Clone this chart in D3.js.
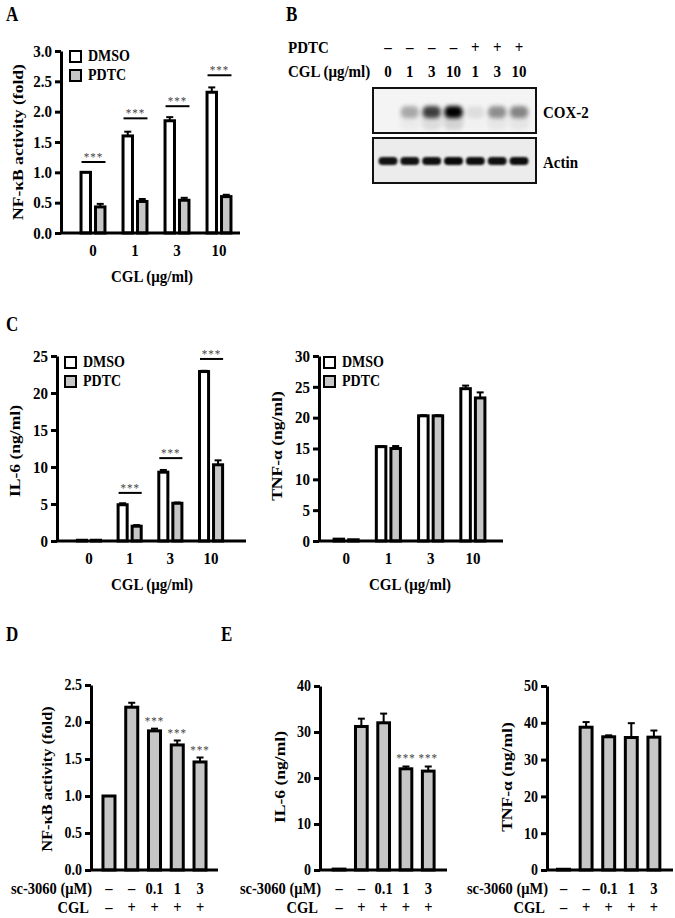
<!DOCTYPE html>
<html><head><meta charset="utf-8">
<script src="https://cdn.jsdelivr.net/npm/d3@7"></script>
<style>
body{margin:0;background:#fff}
svg text{font-family:"Liberation Serif","Times New Roman",Times,serif;font-weight:bold;fill:#000}
</style>
</head><body>
<svg id="chart" width="675" height="918"></svg>
<script>
// ---------------- DATA ----------------
const cglDoses = ["0", "1", "3", "10"];
const seriesNames = ["DMSO", "PDTC"];

// Panel A: NF-kB activity (fold)
const nfkbTicks = [0, 0.5, 1, 1.5, 2, 2.5, 3];
const nfkbDMSO = [1.0, 1.6, 1.85, 2.32];
const nfkbDMSOErr = [0, 0.07, 0.06, 0.08];
const nfkbPDTC = [0.43, 0.52, 0.54, 0.60];
const nfkbPDTCErr = [0.05, 0.04, 0.04, 0.03];
const nfkbSig = [1.17, 1.89, 2.09, 2.6];

// Panel B: western blot
const blotPDTC = ["\u2013", "\u2013", "\u2013", "\u2013", "+", "+", "+"];
const blotCGL = ["0", "1", "3", "10", "1", "3", "10"];
const cox2Intensity = [0, 0.28, 0.72, 1.0, 0.08, 0.38, 0.42];
const actinIntensity = [0.92, 0.92, 0.93, 0.96, 0.94, 0.93, 0.94];

// Panel C: IL-6 and TNF-a (ng/ml)
const il6Ticks = [0, 5, 10, 15, 20, 25];
const il6DMSO = [0.1, 4.9, 9.3, 22.9];
const il6DMSOErr = [0, 0.2, 0.3, 0.1];
const il6PDTC = [0.1, 2.0, 5.1, 10.3];
const il6PDTCErr = [0, 0.15, 0.1, 0.6];
const il6Sig = [null, 6.5, 11.2, 24.6];

const tnfTicks = [0, 5, 10, 15, 20, 25, 30];
const tnfDMSO = [0.3, 15.3, 20.3, 24.7];
const tnfDMSOErr = [0, 0.1, 0.1, 0.5];
const tnfPDTC = [0.2, 15.0, 20.3, 23.2];
const tnfPDTCErr = [0, 0.4, 0.1, 0.9];

// Panels D/E: sc-3060
const scLabels = ["\u2013", "\u2013", "0.1", "1", "3"];
const cglSigns = ["\u2013", "+", "+", "+", "+"];
const dTicks = [0, 0.5, 1, 1.5, 2, 2.5];
const dNfkb = [1.0, 2.2, 1.88, 1.69, 1.46];
const dNfkbErr = [0, 0.06, 0.03, 0.06, 0.06];
const dSig = [false, false, true, true, true];
const eIl6Ticks = [0, 10, 20, 30, 40];
const eIl6 = [0.2, 31.2, 32.0, 22.0, 21.5];
const eIl6Err = [0, 1.7, 2.0, 0.5, 1.0];
const eIl6Sig = [false, false, false, true, true];
const eTnfTicks = [0, 10, 20, 30, 40, 50];
const eTnf = [0.2, 38.8, 36.2, 36.0, 36.1];
const eTnfErr = [0, 1.4, 0.4, 3.9, 1.8];

// ---------------- STYLE ----------------
const SW = 3;          // outline width
const STRETCH = 1.17;  // vertical text stretch of the source figure
const GREY = "#c6c6c6";
const svg = d3.select("#chart");

function addText(x, y, s, o = {}) {
  const t = svg.append("text")
    .attr("transform", `translate(${x},${y}) scale(1,${STRETCH})` + (o.rotate ? " rotate(-90)" : ""))
    .attr("font-size", o.size || 15)
    .attr("text-anchor", o.anchor || "start")
    .text(s);
  if (o.dy) t.attr("dy", o.dy);
  if (o.fill) t.style("fill", o.fill);
  if (o.weight) t.style("font-weight", o.weight);
  if (o.ls) t.attr("letter-spacing", o.ls);
  return t;
}

function drawYAxis(x0, y, ticks, fmt, size) {
  const g = svg.append("g").attr("transform", `translate(${x0},0)`)
    .call(d3.axisLeft(y).tickValues(ticks).tickFormat(fmt).tickSize(6).tickSizeOuter(0).tickPadding(3));
  g.attr("font-family", null).attr("font-size", null);
  g.select(".domain").attr("stroke", "#000").attr("stroke-width", SW);
  g.selectAll(".tick line").attr("stroke", "#000").attr("stroke-width", SW);
  g.selectAll(".tick text").attr("font-size", size || 14).attr("transform", `scale(1,${STRETCH})`).attr("dy", "0.3em");
}

function drawXLine(x0, x1, yv) {
  svg.append("line").attr("x1", x0 - 1).attr("x2", x1).attr("y1", yv).attr("y2", yv)
    .attr("stroke", "#000").attr("stroke-width", SW);
}

function errBar(cx, yTop, yErr) {
  if (Math.abs(yTop - yErr) < 0.5) return;
  svg.append("line").attr("x1", cx).attr("x2", cx).attr("y1", yTop).attr("y2", yErr)
    .attr("stroke", "#000").attr("stroke-width", 2);
  svg.append("line").attr("x1", cx - 3.5).attr("x2", cx + 3.5).attr("y1", yErr).attr("y2", yErr)
    .attr("stroke", "#000").attr("stroke-width", 2);
}

function stars(cx, baseY) {
  addText(cx, baseY, "***", { size: 11, anchor: "middle", fill: "#444", weight: "normal", ls: 1 });
}

// ---------- grouped (DMSO/PDTC) panel ----------
function groupedPanel(o) {
  const y = d3.scaleLinear().domain([0, o.max]).range([o.y0, o.y1]);
  const x0 = d3.scaleBand().domain(cglDoses).range(o.groupRange);
  const x1 = d3.scaleBand().domain(seriesNames).range([0, x0.bandwidth()]).paddingInner(0.14).paddingOuter(0.52);
  const bw = x1.bandwidth();

  o.series.forEach((s, si) => {
    const name = seriesNames[si];
    svg.append("g").selectAll("rect").data(s.vals).join("rect")
      .attr("x", (d, i) => x0(cglDoses[i]) + x1(name) + SW / 2)
      .attr("y", d => y(d))
      .attr("width", bw - SW)
      .attr("height", d => y(0) - y(d))
      .attr("fill", s.fill).attr("stroke", "#000").attr("stroke-width", SW);
    s.vals.forEach((v, i) => errBar(x0(cglDoses[i]) + x1(name) + bw / 2, y(v), y(v + s.errs[i])));
  });

  drawYAxis(o.axisX, y, o.ticks, o.fmt, 15);
  drawXLine(o.axisX, o.xEnd, y(0));

  cglDoses.forEach(g => addText(x0(g) + x0.bandwidth() / 2, o.y0 + 23, g, { size: 15, anchor: "middle" }));
  addText(o.xTitleX, o.y0 + 49, "CGL (\u03bcg/ml)", { size: 15, anchor: "middle" });
  addText(o.yTitleX, o.yTitleY, o.yTitle, { size: 15, anchor: "middle", rotate: true, dy: "0.35em" });

  // legend
  o.series.forEach((s, si) => {
    const ly = o.legendY + si * 19;
    svg.append("rect").attr("x", o.legendX).attr("y", ly).attr("width", 11).attr("height", 11)
      .attr("fill", s.fill).attr("stroke", "#000").attr("stroke-width", 2);
    addText(o.legendX + 18, ly + 10, seriesNames[si], { size: 14 });
  });

  // significance
  if (o.sig) o.sig.forEach((sv, i) => {
    if (sv == null) return;
    const xa = x0(cglDoses[i]) + x1("DMSO") + 2, xb = x0(cglDoses[i]) + x1("PDTC") + bw - 1;
    svg.append("line").attr("x1", xa).attr("x2", xb).attr("y1", y(sv)).attr("y2", y(sv))
      .attr("stroke", "#000").attr("stroke-width", 2);
    stars((xa + xb) / 2, y(sv) - 1);
  });
}

// ---------- single series panel (D/E) ----------
function singlePanel(o) {
  const y = d3.scaleLinear().domain([0, o.max]).range([o.y0, o.y1]);
  const idx = d3.range(o.vals.length);
  const x = d3.scaleBand().domain(idx).range(o.range).paddingInner(0.34).paddingOuter(0.17);
  const bw = x.bandwidth();

  svg.append("g").selectAll("rect").data(o.vals).join("rect")
    .attr("x", (d, i) => x(i) + SW / 2)
    .attr("y", d => y(d))
    .attr("width", bw - SW)
    .attr("height", d => y(0) - y(d))
    .attr("fill", GREY).attr("stroke", "#000").attr("stroke-width", SW);
  o.vals.forEach((v, i) => errBar(x(i) + bw / 2, y(v), y(v + o.errs[i])));
  o.vals.forEach((v, i) => { if (o.sig && o.sig[i]) stars(x(i) + bw / 2, y(v + o.errs[i]) - o.starGap); });

  drawYAxis(o.axisX, y, o.ticks, o.fmt, 14);
  drawXLine(o.axisX, o.xEnd, y(0));

  addText(o.axisX + 1, 894, "sc-3060 (\u03bcM)", { size: 14.5, anchor: "end" });
  addText(o.axisX - 2, 913, "CGL", { size: 14.5, anchor: "end" });
  scLabels.forEach((s, i) => addText(x(i) + bw / 2, 894, s, { size: 14.5, anchor: "middle" }));
  cglSigns.forEach((s, i) => addText(x(i) + bw / 2, 913, s, { size: 14.5, anchor: "middle" }));
  addText(o.yTitleX, o.yTitleY, o.yTitle, { size: o.yTitleSize || 15, anchor: "middle", rotate: true, dy: "0.35em" });
}

// ---------------- PANEL LETTERS ----------------
[["A", 6, 21], ["B", 286, 21], ["C", 6, 331], ["D", 6, 641], ["E", 221, 641]]
  .forEach(([l, x, yv]) => addText(x, yv, l, { size: 17 }));

// ---------------- PANEL A ----------------
groupedPanel({
  axisX: 61, y0: 233, y1: 51, max: 3, ticks: nfkbTicks, fmt: d3.format(".1f"),
  groupRange: [72, 240], xEnd: 240,
  series: [{ vals: nfkbDMSO, errs: nfkbDMSOErr, fill: "#fff" }, { vals: nfkbPDTC, errs: nfkbPDTCErr, fill: GREY }],
  sig: nfkbSig, xTitleX: 152, yTitle: "NF-\u03baB activity (fold)", yTitleX: 18, yTitleY: 142,
  legendX: 70, legendY: 51
});

// ---------------- PANEL C ----------------
groupedPanel({
  axisX: 57, y0: 541, y1: 356, max: 25, ticks: il6Ticks, fmt: d3.format("d"),
  groupRange: [68.6, 231.4], xEnd: 246,
  series: [{ vals: il6DMSO, errs: il6DMSOErr, fill: "#fff" }, { vals: il6PDTC, errs: il6PDTCErr, fill: GREY }],
  sig: il6Sig, xTitleX: 152, yTitle: "IL-6 (ng/ml)", yTitleX: 15, yTitleY: 451,
  legendX: 65, legendY: 357
});
groupedPanel({
  axisX: 319, y0: 541, y1: 356, max: 30, ticks: tnfTicks, fmt: d3.format("d"),
  groupRange: [325, 494], xEnd: 503,
  series: [{ vals: tnfDMSO, errs: tnfDMSOErr, fill: "#fff" }, { vals: tnfPDTC, errs: tnfPDTCErr, fill: GREY }],
  sig: null, xTitleX: 410, yTitle: "TNF-\u03b1 (ng/ml)", yTitleX: 277, yTitleY: 446,
  legendX: 324, legendY: 357
});

// ---------------- PANEL D / E ----------------
singlePanel({
  axisX: 91, y0: 870, y1: 685, max: 2.5, ticks: dTicks, fmt: d3.format(".1f"),
  range: [97.6, 211.4], xEnd: 218, vals: dNfkb, errs: dNfkbErr, sig: dSig, starGap: 4,
  yTitle: "NF-\u03baB activity (fold)", yTitleX: 47, yTitleY: 779, yTitleSize: 14
});
singlePanel({
  axisX: 320, y0: 870, y1: 686, max: 40, ticks: eIl6Ticks, fmt: d3.format("d"),
  range: [327.9, 439.4], xEnd: 447, vals: eIl6, errs: eIl6Err, sig: eIl6Sig, starGap: 5,
  yTitle: "IL-6 (ng/ml)", yTitleX: 280, yTitleY: 777
});
singlePanel({
  axisX: 547, y0: 870, y1: 686, max: 50, ticks: eTnfTicks, fmt: d3.format("d"),
  range: [552.2, 665.2], xEnd: 673, vals: eTnf, errs: eTnfErr, sig: null, starGap: 5,
  yTitle: "TNF-\u03b1 (ng/ml)", yTitleX: 507, yTitleY: 777
});

// ---------------- PANEL B (blot) ----------------
const lane = d3.scalePoint().domain(d3.range(7)).range([388, 519]);
const defs = svg.append("defs");
defs.append("filter").attr("id", "blur").attr("x", "-50%").attr("y", "-80%").attr("width", "200%").attr("height", "260%")
  .append("feGaussianBlur").attr("stdDeviation", 2.2);
defs.append("filter").attr("id", "blur2").attr("x", "-50%").attr("y", "-80%").attr("width", "200%").attr("height", "260%")
  .append("feGaussianBlur").attr("stdDeviation", 1.1);
const boxes = [{ id: "b1", y: 88, h: 45, bg: "#f4f4f4" }, { id: "b2", y: 138, h: 45, bg: "#ececec" }];
boxes.forEach(b => defs.append("clipPath").attr("id", b.id)
  .append("rect").attr("x", 373).attr("y", b.y).attr("width", 163).attr("height", b.h));

addText(288, 53, "PDTC", { size: 15 });
addText(288, 77, "CGL (\u03bcg/ml)", { size: 15 });
blotPDTC.forEach((s, i) => addText(lane(i), 53, s, { size: 15, anchor: "middle" }));
blotCGL.forEach((s, i) => addText(lane(i), 77, s, { size: 15, anchor: "middle" }));

boxes.forEach(b => svg.append("rect").attr("x", 373).attr("y", b.y).attr("width", 163).attr("height", b.h).attr("fill", b.bg));

const g1 = svg.append("g").attr("clip-path", "url(#b1)");
g1.selectAll("rect.smear").data(cox2Intensity).join("rect")
  .attr("x", (d, i) => lane(i) - 10).attr("y", 108).attr("width", 20).attr("height", 22).attr("rx", 6)
  .attr("fill", "#000").attr("opacity", d => d * 0.13).attr("filter", "url(#blur)");
g1.selectAll("rect.band").data(cox2Intensity).join("rect")
  .attr("x", (d, i) => lane(i) - 9).attr("y", 106).attr("width", 18).attr("height", 12).attr("rx", 5)
  .attr("fill", "#000").attr("opacity", d => d).attr("filter", "url(#blur)");

const g2 = svg.append("g").attr("clip-path", "url(#b2)");
g2.selectAll("rect").data(actinIntensity).join("rect")
  .attr("x", (d, i) => lane(i) - 9.5).attr("y", 157).attr("width", 19).attr("height", 8).attr("rx", 4)
  .attr("fill", "#000").attr("opacity", d => d).attr("filter", "url(#blur2)");

boxes.forEach(b => svg.append("rect").attr("x", 373).attr("y", b.y).attr("width", 163).attr("height", b.h)
  .attr("fill", "none").attr("stroke", "#111").attr("stroke-width", 2));

addText(543, 118, "COX-2", { size: 15 });
addText(543, 168, "Actin", { size: 15 });
</script>
</body></html>
